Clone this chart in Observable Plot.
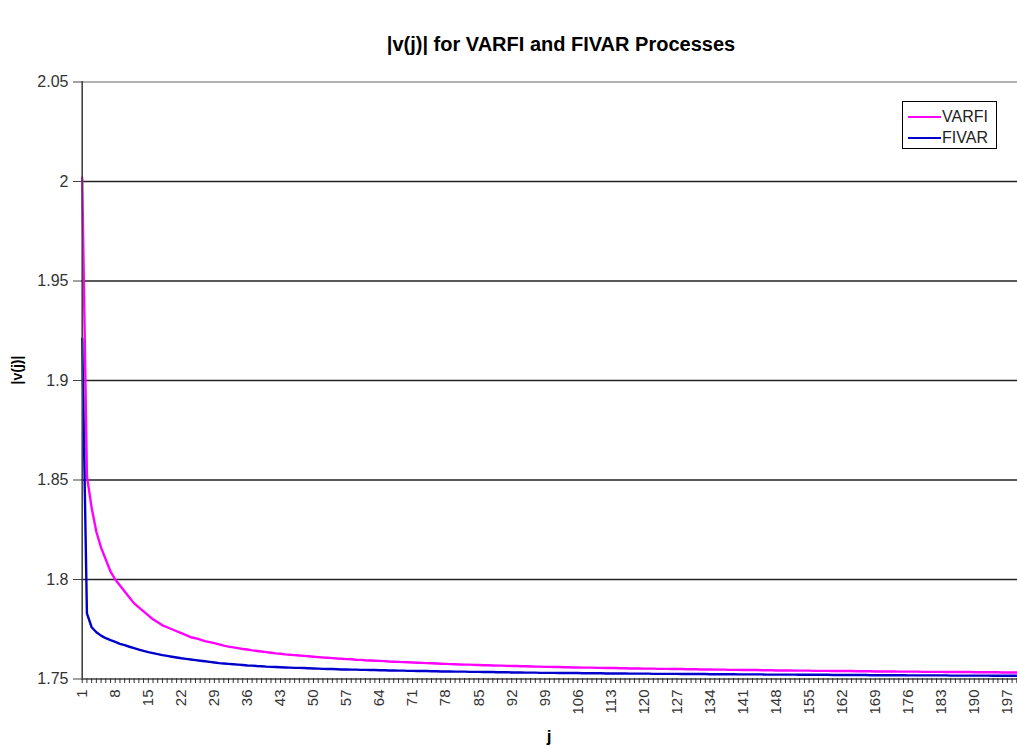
<!DOCTYPE html>
<html>
<head>
<meta charset="utf-8">
<script src="https://cdn.jsdelivr.net/npm/d3@7"></script>
<script src="https://cdn.jsdelivr.net/npm/@observablehq/plot@0.6"></script>
<style>
  body { margin: 0; background: #fff; font-family: "Liberation Sans", Arial, sans-serif; }
  #wrap { position: relative; width: 1017px; height: 748px; overflow: hidden; background: #fff; }
  #title { position: absolute; left: 0; top: 33px; width: 1122px; text-align: center; font-weight: bold; font-size: 20px; color: #000; }
  #ylabel { position: absolute; left: 17px; top: 370px; transform: translate(-50%, -50%) rotate(-90deg); font-weight: bold; font-size: 14px; color: #000; white-space: nowrap; }
  #xlabel { position: absolute; left: 549px; top: 727px; transform: translateX(-50%); font-weight: bold; font-size: 17px; color: #000; }
  #legend { position: absolute; left: 902px; top: 101px; width: 93px; height: 46px; border: 1px solid #000; background: #fff; }
  .lg-row { position: absolute; left: 5px; height: 18px; display: flex; align-items: center; font-size: 16px; color: #222; }
  .lg-line { width: 33px; height: 2px; margin-right: 1px; }
  #plot { position: absolute; left: 0; top: 0; }
</style>
</head>
<body>
<div id="wrap">
  <div id="plot"></div>
  <div id="title">|v(j)| for VARFI and FIVAR Processes</div>
  <div id="ylabel">|v(j)|</div>
  <div id="xlabel">j</div>
  <div id="legend"></div>
</div>
<script>
// Categories: j = 1..200
const j = Array.from({length: 200}, (_, i) => i + 1);

// Labelled x ticks
const xTickLabels = [1, 8, 15, 22, 29, 36, 43, 50, 57, 64, 71, 78, 85, 92, 99, 106, 113, 120, 127, 134, 141, 148, 155, 162, 169, 176, 183, 190, 197];

// Y ticks
const yTicks = [1.75, 1.8, 1.85, 1.9, 1.95, 2, 2.05];

// Series names and colours
const seriesNames = ["VARFI", "FIVAR"];
const seriesColors = ["#ff00ff", "#0000cc"];

// |v(j)| for VARFI
const varfi = [
  2.002, 1.852, 1.836, 1.824, 1.816, 1.810, 1.804, 1.800, 1.797, 1.794,
  1.791, 1.788, 1.786, 1.784, 1.782, 1.780, 1.7785, 1.777, 1.776, 1.775,
  1.774, 1.773, 1.772, 1.771, 1.7705, 1.7698, 1.769, 1.7685, 1.768, 1.7674,
  1.7668, 1.7663, 1.7659, 1.7655, 1.7651, 1.7648, 1.7644, 1.7641, 1.7638, 1.7635,
  1.7632, 1.7629, 1.7627, 1.7624, 1.7622, 1.762, 1.7618, 1.7616, 1.7614, 1.7612,
  1.761, 1.7608, 1.7607, 1.7605, 1.7603, 1.7602, 1.76, 1.7599, 1.7597, 1.7596,
  1.7594, 1.7593, 1.7592, 1.7591, 1.759, 1.7588, 1.7587, 1.7586, 1.7585, 1.7584,
  1.7583, 1.7582, 1.7581, 1.758, 1.7579, 1.7578, 1.7577, 1.7576, 1.7575, 1.7574,
  1.7573, 1.7572, 1.7572, 1.7571, 1.757, 1.7569, 1.7569, 1.7568, 1.7567, 1.7567,
  1.7566, 1.7565, 1.7565, 1.7564, 1.7564, 1.7563, 1.7562, 1.7562, 1.7561, 1.7561,
  1.756, 1.756, 1.7559, 1.7559, 1.7558, 1.7558, 1.7557, 1.7557, 1.7557, 1.7556,
  1.7556, 1.7555, 1.7555, 1.7555, 1.7554, 1.7554, 1.7553, 1.7553, 1.7553, 1.7552,
  1.7552, 1.7552, 1.7551, 1.7551, 1.7551, 1.755, 1.755, 1.755, 1.7549, 1.7549,
  1.7549, 1.7548, 1.7548, 1.7548, 1.7547, 1.7547, 1.7547, 1.7546, 1.7546, 1.7546,
  1.7545, 1.7545, 1.7545, 1.7545, 1.7544, 1.7544, 1.7544, 1.7543, 1.7543, 1.7543,
  1.7543, 1.7542, 1.7542, 1.7542, 1.7542, 1.7541, 1.7541, 1.7541, 1.7541, 1.754,
  1.754, 1.754, 1.754, 1.754, 1.7539, 1.7539, 1.7539, 1.7539, 1.7538, 1.7538,
  1.7538, 1.7538, 1.7538, 1.7537, 1.7537, 1.7537, 1.7537, 1.7537, 1.7536, 1.7536,
  1.7536, 1.7536, 1.7536, 1.7535, 1.7535, 1.7535, 1.7535, 1.7535, 1.7535, 1.7534,
  1.7534, 1.7534, 1.7534, 1.7534, 1.7534, 1.7533, 1.7533, 1.7533, 1.7533, 1.7533
];

// |v(j)| for FIVAR
const fivar = [
  1.921, 1.783, 1.776, 1.7735, 1.7718, 1.7705, 1.7695, 1.7686, 1.7677, 1.767,
  1.7662, 1.7655, 1.7648, 1.7641, 1.7635, 1.763, 1.7625, 1.762, 1.7616, 1.7612,
  1.7608, 1.7604, 1.7601, 1.7598, 1.7595, 1.7592, 1.7589, 1.7586, 1.7583, 1.758,
  1.7578, 1.7576, 1.7574, 1.7572, 1.757, 1.7568, 1.7567, 1.7565, 1.7564, 1.7562,
  1.7561, 1.756, 1.7559, 1.7558, 1.7557, 1.7556, 1.7556, 1.7555, 1.7554, 1.7553,
  1.7552, 1.7551, 1.755, 1.755, 1.7549, 1.7548, 1.7548, 1.7547, 1.7547, 1.7546,
  1.7546, 1.7545, 1.7545, 1.7544, 1.7544, 1.7543, 1.7543, 1.7542, 1.7542, 1.7541,
  1.7541, 1.754, 1.754, 1.754, 1.7539, 1.7539, 1.7538, 1.7538, 1.7538, 1.7537,
  1.7537, 1.7537, 1.7536, 1.7536, 1.7536, 1.7535, 1.7535, 1.7535, 1.7534, 1.7534,
  1.7534, 1.7533, 1.7533, 1.7533, 1.7532, 1.7532, 1.7532, 1.7531, 1.7531, 1.7531,
  1.7531, 1.753, 1.753, 1.753, 1.753, 1.753, 1.7529, 1.7529, 1.7529, 1.7529,
  1.7529, 1.7528, 1.7528, 1.7528, 1.7528, 1.7528, 1.7527, 1.7527, 1.7527, 1.7527,
  1.7527, 1.7526, 1.7526, 1.7526, 1.7526, 1.7526, 1.7526, 1.7525, 1.7525, 1.7525,
  1.7525, 1.7525, 1.7525, 1.7524, 1.7524, 1.7524, 1.7524, 1.7524, 1.7524, 1.7523,
  1.7523, 1.7523, 1.7523, 1.7523, 1.7523, 1.7522, 1.7522, 1.7522, 1.7522, 1.7522,
  1.7522, 1.7522, 1.7521, 1.7521, 1.7521, 1.7521, 1.7521, 1.7521, 1.7521, 1.752,
  1.752, 1.752, 1.752, 1.752, 1.752, 1.752, 1.752, 1.7519, 1.7519, 1.7519,
  1.7519, 1.7519, 1.7519, 1.7519, 1.7519, 1.7518, 1.7518, 1.7518, 1.7518, 1.7518,
  1.7518, 1.7518, 1.7518, 1.7518, 1.7517, 1.7517, 1.7517, 1.7517, 1.7517, 1.7517,
  1.7517, 1.7517, 1.7517, 1.7516, 1.7516, 1.7516, 1.7516, 1.7516, 1.7516, 1.7516
];

const varfiRows = j.map((x, i) => ({j: x, v: varfi[i]}));
const fivarRows = j.map((x, i) => ({j: x, v: fivar[i]}));

const chart = Plot.plot({
  width: 1017,
  height: 748,
  marginLeft: 81,
  marginRight: 0,
  marginTop: 81,
  marginBottom: 70,
  style: { fontFamily: "'Liberation Sans', Arial, sans-serif", background: "#fff", overflow: "visible" },
  x: { type: "linear", domain: [1, 200], range: [81.7, 1021] },
  y: { domain: [1.75, 2.05], range: [678.5, 81.5] },
  marks: [
    Plot.ruleY(yTicks.filter(d => d > 1.75 && d < 2.05), { stroke: "#222", strokeWidth: 1.3 }),
    Plot.ruleY([2.05], { stroke: "#999", strokeWidth: 1.3 }),
    Plot.line(varfiRows, { x: "j", y: "v", stroke: seriesColors[0], strokeWidth: 2.4, curve: "linear" }),
    Plot.line(fivarRows, { x: "j", y: "v", stroke: seriesColors[1], strokeWidth: 2.4, curve: "linear" }),
    Plot.ruleX([1], { stroke: "#444", strokeWidth: 1.6 }),
    Plot.ruleY([1.75], { stroke: "#444", strokeWidth: 1.6 }),
    Plot.axisY({ ticks: yTicks, tickSize: 8, tickPadding: 5, tickFormat: d => String(d), fontSize: 16, color: "#333", stroke: "#444", label: null }),
    Plot.axisX({ ticks: j, tickSize: 5, tickFormat: () => "", stroke: "#333", label: null }),
    Plot.axisX({ ticks: xTickLabels, tickSize: 0, tickPadding: 11, tickRotate: -90, tickFormat: d => String(d), fontSize: 15, color: "#333", label: null })
  ]
});
document.getElementById("plot").appendChild(chart);

// Legend
const legend = document.getElementById("legend");
seriesNames.forEach((name, i) => {
  const row = document.createElement("div");
  row.className = "lg-row";
  row.style.top = (6 + i * 21) + "px";
  const ln = document.createElement("div");
  ln.className = "lg-line";
  ln.style.background = seriesColors[i];
  const tx = document.createElement("span");
  tx.textContent = name;
  row.appendChild(ln);
  row.appendChild(tx);
  legend.appendChild(row);
});
</script>
</body>
</html>
